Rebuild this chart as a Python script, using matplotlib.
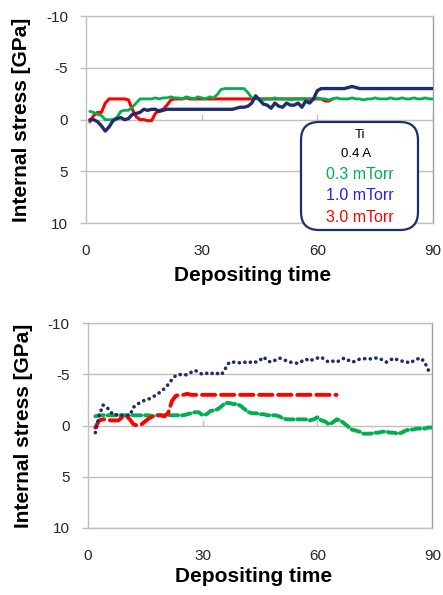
import numpy as np
import matplotlib
matplotlib.use("Agg")
import matplotlib.pyplot as plt
from matplotlib.patches import FancyBboxPatch

plt.rcParams['font.family'] = ['Liberation Sans', 'DejaVu Sans']

# ---------------- data ----------------
x_ticks = [0, 30, 60, 90]
y_ticks = [-10, -5, 0, 5, 10]
y_ticklabels = ["-10", "-5", "0", "5", "10"]

# Top panel (solid lines), time in minutes
top_green_t = np.arange(1, 91)
top_green = [-0.8,
             -0.7, -0.5, -0.4, 0.0, 0.0, 0.0, -0.2, -0.8, -0.9, -0.9,
             -1.2, -1.6, -2.0, -2.0, -2.0, -2.0, -2.1, -2.0, -2.1, -2.1,
             -2.2, -2.1, -2.1, -2.0, -2.2, -2.1, -2.0, -2.2, -2.1, -2.0,
             -2.2, -2.1, -2.4, -2.9, -3.0, -3.0, -3.0, -3.0, -3.0, -3.0,
             -2.6, -2.1, -2.0, -2.0, -1.9, -2.0, -2.0, -2.1, -2.0, -2.0,
             -2.0, -1.9, -2.0, -2.0, -2.0, -2.0, -1.9, -2.0, -2.1, -2.0,
             -2.0, -1.9, -2.0, -2.1, -2.0, -2.0, -2.0, -2.1, -2.0, -2.0,
             -1.9, -2.0, -2.0, -2.1, -2.0, -2.0, -2.0, -2.1, -2.0, -2.0,
             -2.1, -2.0, -2.0, -2.1, -2.0, -2.0, -2.1, -2.0, -2.0]

top_navy_t = np.arange(1, 91)
top_navy = [0.0,
            0.0, 0.2, 0.6, 1.1, 0.7, 0.1, -0.1, -0.2, 0.0, -0.1,
            -0.5, -0.6, -0.7, -1.0, -0.9, -1.0, -1.0, -0.8, -0.9, -1.0,
            -1.0, -1.0, -1.0, -1.0, -1.0, -1.0, -1.0, -1.0, -1.0, -1.0,
            -1.0, -1.0, -1.0, -1.0, -1.0, -1.0, -1.0, -1.1, -1.2, -1.2,
            -1.3, -1.6, -2.3, -1.9, -1.5, -1.4, -1.1, -1.6, -1.3, -1.2,
            -1.6, -1.4, -1.4, -1.6, -1.2, -1.8, -1.6, -2.0, -2.8, -3.0,
            -3.0, -3.0, -3.0, -3.0, -3.0, -3.0, -3.1, -3.2, -3.1, -3.0,
            -3.0, -3.0, -3.0, -3.0, -3.0, -3.0, -3.0, -3.0, -3.0, -3.0,
            -3.0, -3.0, -3.0, -3.0, -3.0, -3.0, -3.0, -3.0, -3.0]

top_red_t = np.arange(1, 65)
top_red = [0.2, -0.4, -0.7, -0.7, -1.6, -2.0, -2.0, -2.0, -2.0, -2.0,
           -1.9, -1.0, -0.3, 0.0, 0.0, 0.1, 0.1, -0.6, -0.9, -1.0,
           -1.4, -1.9, -2.0, -2.0, -2.0, -2.1, -2.0, -2.0, -2.0, -2.0,
           -2.0, -2.0, -2.0, -2.0, -2.0, -2.0, -2.0, -2.0, -2.0, -2.0,
           -2.0, -2.0, -2.0, -2.1, -2.0, -2.0, -2.0, -2.0, -2.0, -2.0,
           -2.0, -2.0, -2.0, -2.0, -2.0, -2.0, -2.0, -2.0, -2.0, -2.0,
           -2.0, -1.8, -1.8, -2.0]

# Bottom panel (dashed / dotted lines)
bot_navy_t = np.arange(2, 91)
bot_navy = [0.7, -1.0, -2.0, -1.8, -1.3, -1.0, -1.1, -1.0, -1.0, -1.0,
            -1.8, -2.1, -2.3, -2.5, -2.6, -2.8, -3.0, -3.3, -3.6, -4.0,
            -4.5, -4.9, -5.0, -4.9, -5.0, -5.2, -5.4, -5.2, -5.0, -5.1,
            -5.2, -5.0, -5.1, -5.0, -5.6, -6.2, -6.2, -6.2, -6.1, -6.2,
            -6.1, -6.3, -6.2, -6.4, -6.7, -6.3, -6.2, -6.4, -6.6, -6.5,
            -6.3, -6.2, -6.1, -6.1, -6.3, -6.5, -6.3, -6.5, -6.6, -6.7,
            -6.4, -6.2, -6.3, -6.2, -6.4, -6.6, -6.4, -6.2, -6.3, -6.5,
            -6.5, -6.6, -6.5, -6.6, -6.6, -6.4, -6.2, -6.4, -6.6, -6.4,
            -6.3, -6.3, -6.1, -6.3, -6.5, -6.6, -6.2, -5.4, -5.4]

bot_red_t = np.arange(2, 66)
bot_red = [0.2, -0.5, -0.6, -0.6, -0.5, -0.5, -0.5, -0.8, -1.0, -0.6,
           -0.1, 0.0, -0.1, -0.4, -0.7, -0.9, -1.0, -1.0, -0.9, -1.2,
           -2.4, -2.9, -3.0, -3.0, -3.1, -3.0, -3.0, -3.0, -3.0, -3.0,
           -3.0, -3.0, -3.0, -3.0, -3.0, -3.0, -3.0, -3.0, -3.0, -3.0,
           -3.0, -3.0, -3.0, -3.0, -3.0, -3.0, -3.0, -3.0, -3.0, -3.0,
           -3.0, -3.0, -3.0, -3.0, -3.0, -3.0, -3.0, -3.0, -3.0, -3.0,
           -3.0, -3.0, -3.0, -3.0]

bot_green_t = np.arange(2, 91)
bot_green = [-0.9, -1.0, -1.0, -1.0, -1.0, -1.0, -1.0, -1.0, -1.0, -1.0,
             -1.0, -1.0, -1.0, -1.0, -1.0, -0.9, -1.0, -1.0, -1.0, -1.0,
             -1.0, -1.0, -1.0, -1.0, -1.1, -1.2, -1.3, -1.3, -1.0, -1.1,
             -1.4, -1.5, -1.6, -1.9, -2.2, -2.2, -2.1, -2.1, -1.9, -1.6,
             -1.3, -1.2, -1.2, -1.1, -1.1, -1.0, -1.0, -1.0, -0.9, -0.7,
             -0.6, -0.6, -0.6, -0.6, -0.6, -0.6, -0.5, -0.6, -0.8, -0.5,
             -0.4, -0.1, -0.3, -0.6, -0.5, -0.2, 0.1, 0.4, 0.5, 0.6,
             0.8, 0.8, 0.8, 0.7, 0.7, 0.6, 0.6, 0.7, 0.7, 0.8,
             0.7, 0.5, 0.4, 0.4, 0.3, 0.3, 0.3, 0.2, 0.2]

legend_lines = ["Ti", "0.4 A", "0.3 mTorr", "1.0 mTorr", "3.0 mTorr"]

# ---------------- styles ----------------
GREEN = "#00B050"
NAVY = "#1F2D6B"
RED = "#FF0000"
BLUE_TXT = "#2020FF"
GRID = "#BFBFBF"
TXT = "#262626"

W, H = 443, 595
fig = plt.figure(figsize=(W / 100, H / 100), dpi=100)


def px_axes(left, top, right, bottom):
    return fig.add_axes([left / W, 1 - bottom / H, (right - left) / W, (bottom - top) / H])


def style(ax, xlabel_y):
    ax.set_xlim(0, 90)
    ax.set_ylim(10, -10)
    ax.set_yticks(y_ticks)
    ax.set_yticklabels(y_ticklabels)
    ax.set_xticks(x_ticks)
    ax.grid(axis='y', color=GRID, lw=1.0)
    ax.set_axisbelow(True)
    for s in ax.spines.values():
        s.set_color(GRID)
        s.set_linewidth(1.0)
    ax.spines['right'].set_color("#A0A0A0")
    ax.tick_params(axis='y', direction='out', length=4, width=1, color=GRID,
                   labelsize=11, labelcolor=TXT, pad=9)
    ax.tick_params(axis='x', length=0, labelsize=11, labelcolor=TXT, pad=15)
    # small tick marks on the zero line
    ax.vlines(x_ticks[1:], 0, -0.5, color=GRID, lw=1.0, zorder=1)
    ax.set_ylabel("Internal stress [GPa]", fontsize=15, fontweight='bold', color='black')
    ax.yaxis.set_label_coords(-0.158, 0.5)
    ax.set_xlabel("Depositing time", fontsize=15, fontweight='bold', color='black')
    ax.xaxis.set_label_coords(0.48, xlabel_y)
    ax.xaxis.label.set_va('center')


# ---------- top ----------
ax1 = px_axes(86, 16, 433, 223.3)
style(ax1, -0.25)
ax1.plot(top_red_t, top_red, color=RED, lw=2.2, solid_capstyle='round', zorder=3)
ax1.plot(top_green_t, top_green, color=GREEN, lw=2.0, solid_capstyle='round', zorder=4)
ax1.plot(top_navy_t, top_navy, color=NAVY, lw=2.4, solid_capstyle='round', zorder=5)

# legend-like annotation box
box = FancyBboxPatch((3.01, (H - 230) / 100), 1.17, 1.08,
                     boxstyle="round,pad=0,rounding_size=0.18",
                     transform=fig.dpi_scale_trans, facecolor='white',
                     edgecolor=NAVY, lw=1.6, zorder=10)
fig.patches.append(box)
leg_colors = ['black', 'black', GREEN, BLUE_TXT, RED]
leg_sizes = [9.5, 9.5, 11.5, 11.5, 11.5]
leg_y = [135, 154, 174, 196, 217]
leg_x = [360, 356, 360, 360, 360]
for txt, c, s, yy, xx in zip(legend_lines, leg_colors, leg_sizes, leg_y, leg_x):
    fig.text(xx / W, 1 - yy / H, txt, color=c, fontsize=s, ha='center', va='center', zorder=11)

# ---------- bottom ----------
ax2 = px_axes(87.7, 323.3, 432.3, 527.7)
style(ax2, -0.24)
ax2.plot(bot_green_t, bot_green, color=GREEN, lw=2.8, dashes=(2.2, 1.0),
         dash_capstyle='round', zorder=3)
ax2.plot(bot_red_t, bot_red, color=RED, lw=2.8, dashes=(3.4, 1.5),
         dash_capstyle='round', zorder=4)
ax2.plot(bot_navy_t, bot_navy, color=NAVY, lw=2.6, dashes=(0.05, 1.55),
         dash_capstyle='round', zorder=5)

fig.savefig("out.png", dpi=100)
